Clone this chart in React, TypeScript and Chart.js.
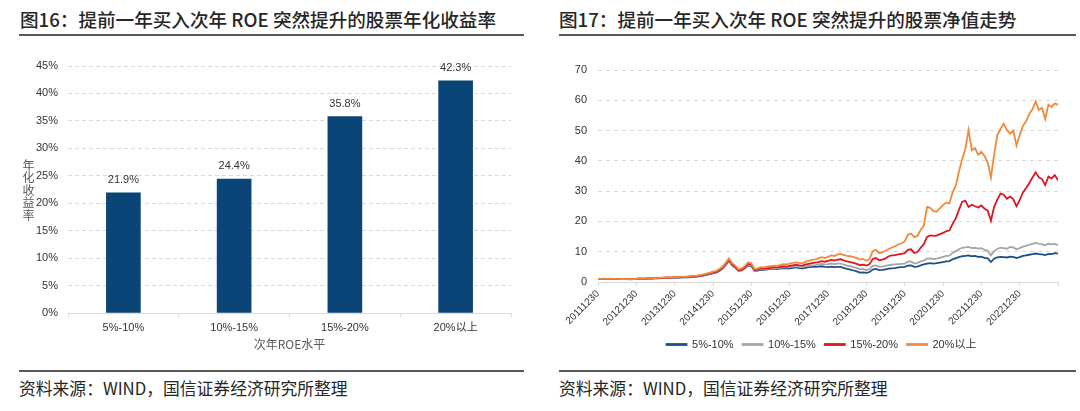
import React, { useEffect, useRef } from 'react';
import { Chart, registerables } from 'chart.js';

Chart.register(...registerables);

const LATIN = "'Liberation Sans', Arial, 'Noto Sans CJK SC', sans-serif";
const CJK = "'Noto Sans CJK SC', 'Liberation Sans', sans-serif";

// ---- Left chart data ----
const barCategories = ['5%-10%', '10%-15%', '15%-20%', '20%以上'];
const barValues = [21.9, 24.4, 35.8, 42.3];

// ---- Right chart data (monthly, 2011-12 .. 2023-12) ----
const lineTickLabels = ['20111230', '20121230', '20131230', '20141230', '20151230', '20161230', '20171230', '20181230', '20191230', '20201230', '20211230', '20221230'];
const seriesNames = ['5%-10%', '10%-15%', '15%-20%', '20%以上'];

const navLow = [
  1.00, 1.02, 1.04, 1.01, 1.04, 1.01, 0.97, 0.93, 0.95, 0.92, 0.91, 0.95,
  1.01, 1.09, 1.05, 1.09, 1.16, 1.12, 1.17, 1.24, 1.28, 1.32, 1.36, 1.33,
  1.40, 1.42, 1.47, 1.52, 1.57, 1.65, 1.73, 1.81, 1.95, 2.12, 2.38, 2.62,
  2.85, 3.10, 3.65, 4.40, 5.60, 7.00, 5.50, 4.70, 3.70, 3.85, 4.50, 5.40,
  5.30, 3.70, 3.80, 4.10, 4.00, 4.20, 4.30, 4.40, 4.30, 4.40, 4.50, 4.50,
  4.50, 4.70, 4.80, 4.60, 4.50, 4.70, 4.90, 5.00, 5.00, 5.10, 5.20, 5.00,
  4.90, 5.10, 4.90, 5.00, 5.00, 4.60, 4.30, 4.10, 3.80, 3.50, 3.10, 3.20,
  3.00, 3.30, 4.10, 4.30, 3.90, 4.00, 4.20, 4.40, 4.50, 4.60, 4.80, 4.90,
  5.00, 5.40, 5.50, 5.00, 5.10, 5.50, 5.80, 6.10, 6.20, 6.10, 6.20, 6.40,
  6.60, 6.80, 6.90, 7.50, 7.90, 8.20, 8.50, 8.60, 8.80, 8.50, 8.60, 8.30,
  8.40, 8.00, 7.80, 6.60, 7.70, 8.10, 8.30, 8.20, 8.10, 8.40, 8.30, 7.90,
  8.20, 8.60, 8.80, 9.00, 9.20, 9.40, 9.20, 9.10, 8.90, 9.30, 9.20, 9.50, 9.40,
];

const navMidLow = [
  1.00, 1.02, 1.05, 1.02, 1.05, 1.02, 0.98, 0.94, 0.96, 0.93, 0.92, 0.96,
  1.03, 1.12, 1.08, 1.12, 1.20, 1.16, 1.22, 1.29, 1.34, 1.39, 1.44, 1.40,
  1.48, 1.50, 1.56, 1.61, 1.67, 1.75, 1.84, 1.93, 2.08, 2.27, 2.53, 2.80,
  3.05, 3.30, 3.85, 4.60, 5.80, 7.20, 5.70, 4.90, 3.80, 4.00, 4.70, 5.70,
  5.60, 3.90, 4.00, 4.30, 4.20, 4.40, 4.50, 4.60, 4.50, 4.70, 4.80, 4.80,
  4.90, 5.10, 5.20, 5.00, 4.90, 5.20, 5.40, 5.50, 5.60, 5.80, 6.00, 5.80,
  5.90, 6.10, 5.90, 6.10, 6.10, 5.70, 5.40, 5.20, 4.90, 4.60, 4.20, 4.30,
  3.90, 4.30, 5.30, 5.50, 5.00, 5.10, 5.30, 5.60, 5.70, 5.80, 5.90, 6.00,
  6.10, 6.70, 6.80, 6.10, 6.30, 6.80, 7.10, 7.70, 7.80, 7.60, 7.70, 8.00,
  8.30, 8.60, 8.70, 9.60, 10.20, 10.80, 11.30, 11.40, 11.60, 11.20, 11.30, 11.00,
  11.20, 10.60, 10.30, 8.80, 10.20, 10.90, 11.30, 11.20, 11.00, 11.60, 11.40, 10.80,
  11.20, 11.70, 11.90, 12.30, 12.60, 12.90, 12.60, 12.50, 12.10, 12.70, 12.40, 12.60, 12.20,
];

const navMidHigh = [
  1.00, 1.03, 1.06, 1.03, 1.06, 1.03, 0.99, 0.95, 0.97, 0.94, 0.93, 0.97,
  1.05, 1.14, 1.10, 1.15, 1.23, 1.19, 1.25, 1.32, 1.38, 1.43, 1.48, 1.44,
  1.52, 1.54, 1.61, 1.66, 1.72, 1.81, 1.90, 1.99, 2.15, 2.35, 2.62, 2.90,
  3.20, 3.45, 4.00, 4.80, 6.00, 7.40, 5.90, 5.00, 3.90, 4.10, 4.90, 6.00,
  5.80, 4.00, 4.20, 4.50, 4.40, 4.60, 4.70, 4.90, 4.80, 5.00, 5.20, 5.10,
  5.30, 5.50, 5.70, 5.50, 5.40, 5.80, 6.00, 6.20, 6.40, 6.60, 6.90, 6.70,
  7.00, 7.30, 7.10, 7.40, 7.50, 7.10, 6.80, 6.60, 6.30, 6.00, 5.60, 5.70,
  5.40, 5.90, 7.60, 7.90, 7.20, 7.40, 7.80, 8.50, 8.80, 8.90, 9.10, 9.30,
  9.50, 10.60, 10.80, 9.60, 9.90, 11.30, 12.50, 14.90, 15.40, 15.20, 15.30, 15.80,
  16.20, 16.80, 17.00, 19.20, 21.00, 23.80, 26.50, 26.80, 24.80, 25.50, 25.00, 24.60,
  25.30, 24.20, 23.60, 20.20, 24.80, 27.20, 29.20, 28.80, 27.50, 28.20, 27.40, 25.00,
  27.00, 29.50, 31.00, 32.60, 34.50, 36.20, 34.60, 34.00, 32.00, 34.80, 34.20, 35.30, 33.60,
];

const navHigh = [
  1.00, 1.04, 1.08, 1.05, 1.09, 1.06, 1.01, 0.97, 0.99, 0.96, 0.95, 0.99,
  1.08, 1.18, 1.14, 1.19, 1.28, 1.24, 1.30, 1.38, 1.44, 1.50, 1.55, 1.51,
  1.60, 1.62, 1.70, 1.76, 1.82, 1.92, 2.02, 2.12, 2.30, 2.52, 2.80, 3.10,
  3.45, 3.70, 4.30, 5.10, 6.40, 7.80, 6.20, 5.40, 4.20, 4.50, 5.30, 6.50,
  6.20, 4.30, 4.50, 4.90, 4.80, 5.10, 5.20, 5.40, 5.30, 5.60, 5.90, 5.80,
  6.10, 6.30, 6.50, 6.30, 6.20, 6.70, 7.00, 7.30, 7.50, 7.80, 8.20, 7.90,
  8.30, 8.80, 8.60, 9.10, 9.30, 8.90, 8.60, 8.50, 8.20, 7.90, 7.40, 7.60,
  7.00, 7.60, 10.20, 10.60, 9.50, 9.80, 10.30, 10.90, 11.40, 11.80, 12.40, 12.80,
  13.40, 15.60, 16.00, 14.80, 15.20, 17.20, 18.60, 24.80, 24.50, 23.40, 23.20, 24.30,
  25.40, 26.20, 26.00, 29.50, 31.80, 36.50, 40.50, 44.00, 50.20, 43.50, 44.20, 42.00,
  43.00, 41.60, 39.50, 34.50, 42.00, 48.50, 50.50, 52.30, 50.20, 49.00, 50.00, 45.00,
  48.50, 51.50, 53.00, 55.50, 57.00, 59.60, 56.80, 57.50, 53.80, 58.50, 57.80, 59.00, 58.50,
];

const seriesValues = [navLow, navMidLow, navMidHigh, navHigh];
const seriesColors = ['#1d4f8b', '#a6a6a6', '#dc1720', '#f08a3c'];

const barLabelPlugin = {
  id: 'barLabels',
  afterDatasetsDraw(chart: any) {
    const ctx = chart.ctx;
    const meta = chart.getDatasetMeta(0);
    ctx.save();
    ctx.font = `11px ${LATIN}`;
    ctx.fillStyle = '#333333';
    ctx.textAlign = 'center';
    ctx.textBaseline = 'middle';
    meta.data.forEach((el: any, i: number) => {
      ctx.fillText(barValues[i].toFixed(1) + '%', el.x, el.y - 13);
    });
    ctx.restore();
  },
};

const legendShiftPlugin = {
  id: 'legendShift',
  afterLayout(chart: any) {
    const lg = chart.legend;
    if (lg) {
      lg.left += 15;
      lg.right += 15;
    }
  },
};

function BarChart() {
  const ref = useRef<HTMLCanvasElement>(null);
  useEffect(() => {
    const chart = new Chart(ref.current as HTMLCanvasElement, {
      type: 'bar',
      data: {
        labels: barCategories,
        datasets: [{ data: barValues, backgroundColor: '#0b4577', borderWidth: 0, barThickness: 34 }],
      },
      options: {
        animation: false,
        responsive: false,
        devicePixelRatio: 1,
        layout: { padding: { left: 0, right: 17, top: 26, bottom: 0 } },
        plugins: { legend: { display: false }, tooltip: { enabled: false } },
        scales: {
          x: {
            grid: { drawOnChartArea: false, tickLength: 4, color: '#d9d9d9' },
            border: { color: '#d9d9d9' },
            ticks: { font: { family: LATIN, size: 11 }, color: '#333333', padding: 4 },
            title: { display: true, text: '次年ROE水平', font: { family: CJK, size: 12 }, color: '#595959', padding: { top: 0, bottom: 8 } },
            afterFit: (s: any) => { s.height = 47; },
          },
          y: {
            min: 0,
            max: 45,
            ticks: { stepSize: 5, callback: (v: any) => v + '%', padding: 10, font: { family: LATIN, size: 11 }, color: '#333333' },
            grid: { drawTicks: false, color: '#d9d9d9' },
            border: { display: false, dash: [4, 3] },
            afterFit: (s: any) => { s.width = 50; },
          },
        },
      } as any,
      plugins: [barLabelPlugin],
    });
    return () => chart.destroy();
  }, []);
  return <canvas ref={ref} width={510} height={320} style={{ position: 'absolute', left: 18, top: 40 }} />;
}

function LineChart() {
  const ref = useRef<HTMLCanvasElement>(null);
  useEffect(() => {
    const datasets = seriesNames.map((name, k) => ({
      label: name,
      data: seriesValues[k].map((v, i) => ({ x: i, y: v })),
      borderColor: seriesColors[k],
      backgroundColor: seriesColors[k],
      borderWidth: 1.8,
      pointRadius: 0,
      tension: 0,
      order: 3 - k,
    }));
    const chart = new Chart(ref.current as HTMLCanvasElement, {
      type: 'line',
      data: { datasets },
      options: {
        animation: false,
        responsive: false,
        devicePixelRatio: 1,
        layout: { padding: { left: 0, right: 17, top: 30, bottom: 0 } },
        plugins: {
          tooltip: { enabled: false },
          legend: {
            position: 'bottom',
            labels: {
              boxWidth: 20,
              boxHeight: 1,
              padding: 9,
              font: { family: LATIN, size: 11 },
              color: '#333333',
              sort: (a: any, b: any) => a.datasetIndex - b.datasetIndex,
            },
          },
        },
        scales: {
          x: {
            type: 'linear',
            min: 0,
            max: 144,
            grid: { drawOnChartArea: false, tickLength: 4, color: '#d9d9d9' },
            border: { color: '#d9d9d9' },
            ticks: {
              stepSize: 12,
              autoSkip: false,
              minRotation: 45,
              maxRotation: 45,
              padding: 2,
              font: { family: LATIN, size: 10 },
              color: '#333333',
              callback: (v: any) => lineTickLabels[Math.round(Number(v) / 12)] ?? '',
            },
            afterFit: (s: any) => { s.height = 48; },
          },
          y: {
            min: 0,
            max: 70,
            ticks: { stepSize: 10, padding: 11, font: { family: LATIN, size: 11 }, color: '#333333' },
            grid: { drawTicks: false, color: '#d9d9d9' },
            border: { display: false, dash: [4, 4] },
            afterFit: (s: any) => { s.width = 43; },
          },
        },
      } as any,
      plugins: [legendShiftPlugin],
    });
    return () => chart.destroy();
  }, []);
  return <canvas ref={ref} width={520} height={320} style={{ position: 'absolute', left: 555, top: 40 }} />;
}

const titleStyle: React.CSSProperties = {
  position: 'absolute',
  top: 7,
  fontFamily: CJK,
  fontSize: 18.6,
  lineHeight: '24px',
  fontWeight: 500,
  color: '#262626',
  whiteSpace: 'nowrap',
};
const sourceStyle: React.CSSProperties = {
  position: 'absolute',
  top: 378,
  fontFamily: CJK,
  fontSize: 16.8,
  lineHeight: '20px',
  color: '#262626',
  whiteSpace: 'nowrap',
};
const ruleStyle: React.CSSProperties = { position: 'absolute', height: 2, background: '#595959' };

export default function App() {
  return (
    <div style={{ position: 'absolute', left: 0, top: 0, width: 1080, height: 411, background: '#ffffff', overflow: 'hidden' }}>
      <div style={{ ...titleStyle, left: 20 }}>图16：提前一年买入次年 ROE 突然提升的股票年化收益率</div>
      <div style={{ ...titleStyle, left: 559 }}>图17：提前一年买入次年 ROE 突然提升的股票净值走势</div>
      <div style={{ ...ruleStyle, left: 19, top: 34, width: 505 }} />
      <div style={{ ...ruleStyle, left: 559, top: 34, width: 517 }} />
      <BarChart />
      <div
        style={{
          position: 'absolute',
          left: 22,
          top: 159,
          writingMode: 'vertical-rl',
          textOrientation: 'upright',
          fontFamily: CJK,
          fontSize: 12,
          lineHeight: '12px',
          letterSpacing: 0.5,
          color: '#595959',
        }}
      >
        年化收益率
      </div>
      <LineChart />
      <div style={{ ...ruleStyle, left: 19, top: 370, width: 505 }} />
      <div style={{ ...ruleStyle, left: 559, top: 370, width: 517 }} />
      <div style={{ ...sourceStyle, left: 19 }}>资料来源：WIND，国信证券经济研究所整理</div>
      <div style={{ ...sourceStyle, left: 559 }}>资料来源：WIND，国信证券经济研究所整理</div>
    </div>
  );
}
